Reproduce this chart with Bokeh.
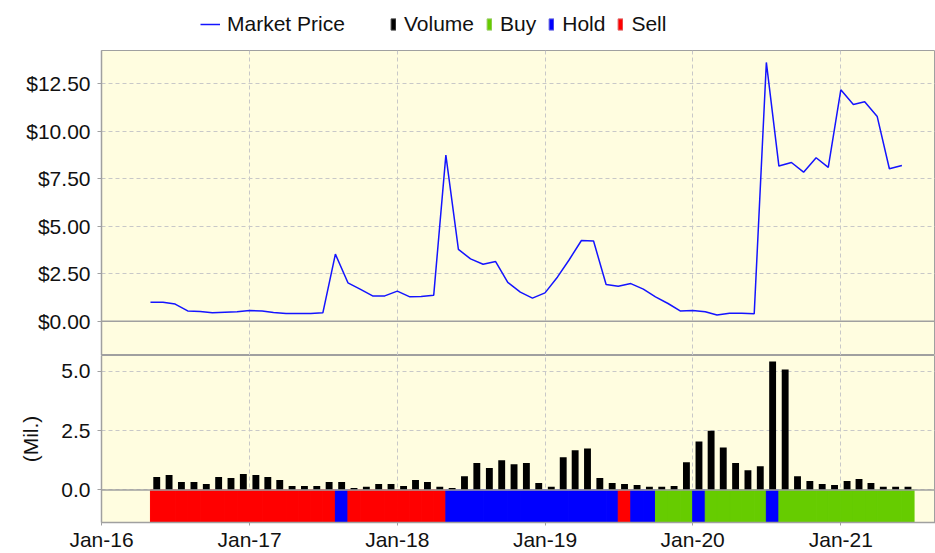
from datetime import datetime
import pandas as pd
from bokeh.plotting import figure
from bokeh.models import (Range1d, FixedTicker, NumeralTickFormatter, DatetimeTickFormatter,
                          Span, Legend, LegendItem, ColumnDataSource)
from bokeh.layouts import column
from bokeh.embed import file_html
from bokeh.resources import INLINE

# ---------------- data ----------------
months = pd.date_range("2016-05-01", periods=62, freq="MS")

price = [1.00, 1.00, 0.90, 0.54, 0.51, 0.44, 0.47, 0.50, 0.56, 0.54, 0.45, 0.40, 0.40, 0.40, 0.44,
         3.53, 2.02, 1.69, 1.33, 1.33, 1.58, 1.28, 1.30, 1.37,
         8.75, 3.78, 3.28, 3.00, 3.14, 2.04, 1.53, 1.21,
         1.49, 2.33, 3.21, 4.25, 4.22, 1.93, 1.84, 1.98, 1.69, 1.28, 0.93, 0.54,
         0.56, 0.49, 0.32, 0.42, 0.42, 0.39,
         13.63, 8.17, 8.36, 7.85, 8.61, 8.10, 12.19, 11.42, 11.56, 10.78, 8.03, 8.20]

volume = [0.54, 0.63, 0.33, 0.33, 0.25, 0.54, 0.50, 0.67, 0.63, 0.54, 0.42, 0.17, 0.17, 0.17, 0.33,
          0.33, 0.08, 0.13, 0.25, 0.25, 0.17, 0.42, 0.33, 0.13, 0.08,
          0.58, 1.13, 0.92, 1.25, 1.08, 1.13, 0.29, 0.13, 1.38, 1.67, 1.75, 0.50, 0.29, 0.25,
          0.21, 0.13, 0.13, 0.17, 1.17,
          2.04, 2.50, 1.79, 1.13, 0.83, 1.00, 5.42, 5.08, 0.58, 0.38, 0.25, 0.21, 0.38, 0.46,
          0.29, 0.13, 0.13, 0.13]

rating = ["Sell", "Sell", "Sell", "Sell", "Sell", "Sell", "Sell", "Sell", "Sell", "Sell",
          "Sell", "Sell", "Sell", "Sell", "Sell", "Hold", "Sell", "Sell", "Sell", "Sell",
          "Sell", "Sell", "Sell", "Sell", "Hold", "Hold", "Hold", "Hold", "Hold", "Hold",
          "Hold", "Hold", "Hold", "Hold", "Hold", "Hold", "Hold", "Hold", "Sell", "Hold",
          "Hold", "Buy", "Buy", "Buy", "Hold", "Buy", "Buy", "Buy", "Buy", "Buy",
          "Hold", "Buy", "Buy", "Buy", "Buy", "Buy", "Buy", "Buy", "Buy", "Buy",
          "Buy", "Buy"]

year_ticks = ["2016-01-01", "2017-01-01", "2018-01-01", "2019-01-01", "2020-01-01", "2021-01-01"]
price_ticks = [0, 2.5, 5, 7.5, 10, 12.5]
vol_ticks = [0, 2.5, 5]

# ---------------- style ----------------
FONT = "Liberation Sans"
FS = "21px"
BG = "#FFFDE0"
GRID = "#C8C8C8"
AXIS = "#A0A0A0"
LINE = "#1414FF"
TXT = "#111111"
RATING_COLORS = {"Buy": "#66CC00", "Hold": "#0000FF", "Sell": "#FF0000"}

W = 935
LEFT = 101
XR = Range1d(start=datetime(2016, 1, 1), end=datetime(2021, 8, 23))
jan_ms = [pd.Timestamp(t).value // 10**6 for t in year_ticks]

start = months
end = months + pd.offsets.MonthBegin(1)
mid = start + (end - start) / 2
bar_w = 17 * 86400000

colors = [RATING_COLORS[r] for r in rating]
src = ColumnDataSource(dict(start=start, end=end, mid=mid, price=price, volume=volume,
                            color=colors))


def style_y(ax):
    ax.axis_line_color = AXIS
    ax.axis_line_width = 1.5
    ax.major_tick_line_color = AXIS
    ax.major_tick_out = 4
    ax.major_tick_in = 0
    ax.minor_tick_line_color = None
    ax.major_label_text_font = FONT
    ax.major_label_text_font_size = FS
    ax.major_label_text_color = TXT
    ax.major_label_standoff = 7


# ---------------- legend strip ----------------
p0 = figure(width=W, height=50, x_range=Range1d(0, 1), y_range=Range1d(0, 1),
            x_axis_location=None, y_axis_location=None, toolbar_location=None,
            output_backend="svg", min_border_left=LEFT, min_border_right=0,
            min_border_top=0, min_border_bottom=0, outline_line_color=None,
            background_fill_color="white", border_fill_color="white")
p0.grid.visible = False
# legend proxies, placed outside the visible range
r_l = p0.line(x=[5, 6], y=[5, 5], line_color=LINE, line_width=1.5)
r_v = p0.vbar(x=[5], top=[5], bottom=4, width=0.1, fill_color="black", line_color="#444444")
r_b = p0.vbar(x=[5], top=[5], bottom=4, width=0.1, fill_color=RATING_COLORS["Buy"],
              line_color="#99CC66")
r_h = p0.vbar(x=[5], top=[5], bottom=4, width=0.1, fill_color=RATING_COLORS["Hold"],
              line_color="#6666DD")
r_s = p0.vbar(x=[5], top=[5], bottom=4, width=0.1, fill_color=RATING_COLORS["Sell"],
              line_color="#DD6666")

leg_common = dict(orientation="horizontal", padding=0, margin=0, border_line_color=None,
                  background_fill_alpha=0, label_text_font=FONT,
                  label_text_font_size=FS, label_text_color=TXT)
leg1 = Legend(items=[LegendItem(label="Market Price", renderers=[r_l])],
              location=(200 - LEFT, 14),
              glyph_width=20, glyph_height=20, label_standoff=7, label_height=20, **leg_common)
leg2 = Legend(items=[LegendItem(label="Volume", renderers=[r_v]),
                     LegendItem(label="Buy", renderers=[r_b]),
                     LegendItem(label="Hold", renderers=[r_h]),
                     LegendItem(label="Sell", renderers=[r_s])],
              location=(390 - LEFT, 14), glyph_width=6, glyph_height=14, label_standoff=8,
              label_height=20, spacing=12, **leg_common)
p0.add_layout(leg1)
p0.add_layout(leg2)

# ---------------- price panel ----------------
p1 = figure(width=W, height=305, x_range=XR, y_range=Range1d(-1.81, 14.26),
            x_axis_type="datetime", x_axis_location=None, toolbar_location=None,
            output_backend="svg", min_border_left=LEFT, min_border_right=0,
            min_border_top=0, min_border_bottom=0,
            background_fill_color=BG, border_fill_color="white", outline_line_color=AXIS)
p1.xgrid.ticker = FixedTicker(ticks=jan_ms)
p1.yaxis.ticker = FixedTicker(ticks=price_ticks)
p1.yaxis.formatter = NumeralTickFormatter(format="$0.00")
style_y(p1.yaxis[0])
for g in (p1.xgrid, p1.ygrid):
    g.grid_line_color = GRID
    g.grid_line_dash = "4 3"
p1.add_layout(Span(location=0, dimension="width", line_color=AXIS, line_width=1.5))
p1.line(x="start", y="price", source=src, line_color=LINE, line_width=1.5)

# ---------------- volume / rating panel ----------------
VLO, VHI = -1.375, 5.67
p2 = figure(width=W, height=198, x_range=XR, y_range=Range1d(VLO, VHI),
            x_axis_type="datetime", toolbar_location=None, output_backend="svg",
            min_border_left=LEFT, min_border_right=0, min_border_top=0, min_border_bottom=0,
            background_fill_color=BG, border_fill_color="white", outline_line_color=AXIS)
p2.xaxis.ticker = FixedTicker(ticks=jan_ms)
fmt = "%b-%y"
p2.xaxis.formatter = DatetimeTickFormatter(
    microseconds=fmt, milliseconds=fmt, seconds=fmt, minsec=fmt, minutes=fmt,
    hourmin=fmt, hours=fmt, days=fmt, months=fmt, years=fmt)
xa = p2.xaxis[0]
xa.axis_line_color = AXIS
xa.axis_line_width = 1.5
xa.major_tick_line_color = AXIS
xa.major_tick_out = 3
xa.major_tick_in = 0
xa.minor_tick_line_color = None
xa.major_label_text_font = FONT
xa.major_label_text_font_size = FS
xa.major_label_text_color = TXT
xa.major_label_standoff = 2

p2.yaxis.ticker = FixedTicker(ticks=vol_ticks)
p2.yaxis.formatter = NumeralTickFormatter(format="0.0")
style_y(p2.yaxis[0])
p2.yaxis.axis_label = "(Mil.)"
p2.yaxis.axis_label_text_font = FONT
p2.yaxis.axis_label_text_font_size = FS
p2.yaxis.axis_label_text_font_style = "normal"
p2.yaxis.axis_label_text_color = TXT
p2.yaxis.axis_label_standoff = 16
for g in (p2.xgrid, p2.ygrid):
    g.grid_line_color = GRID
    g.grid_line_dash = "4 3"

p2.quad(left="start", right="end", bottom=VLO, top=0, source=src,
        fill_color="color", line_color="color", line_width=1)
p2.vbar(x="mid", width=bar_w, top="volume", bottom=0, source=src,
        fill_color="black", line_color=None)
p2.add_layout(Span(location=0, dimension="width", line_color=AXIS, line_width=1.5))

layout = column(p0, p1, p2, spacing=0)
open("out.html", "w").write(file_html(layout, INLINE))
